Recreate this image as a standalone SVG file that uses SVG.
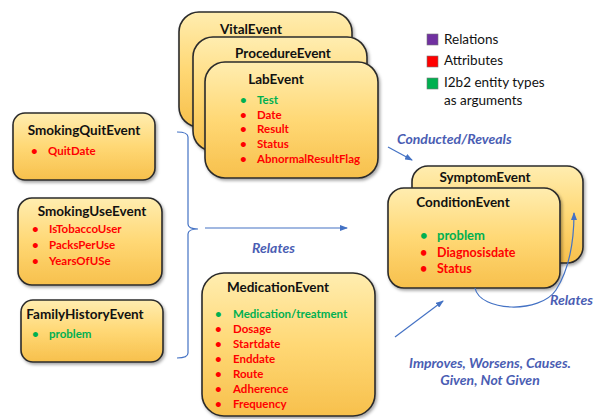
<svg xmlns="http://www.w3.org/2000/svg" width="597" height="419" viewBox="0 0 597 419">
<style>
text{font-family:Lato,"Liberation Sans",sans-serif}
.box{fill:url(#g);stroke:#2b2b2b;stroke-width:1.6;filter:url(#sh)}
.t{font-weight:700;font-size:13.5px;fill:#111}
.a{font-weight:700;font-size:11.5px;fill:#ff0000}
.e{font-weight:700;font-size:11.5px;fill:#00b050}
.a2{font-weight:700;font-size:12.5px;fill:#ff0000}
.e2{font-weight:700;font-size:13px;fill:#00b050}
.lg{font-size:13.5px;fill:#111}
.lbl{font-weight:700;font-style:italic;font-size:14px;fill:#4a5db3}
.ln{fill:none;stroke:#4472c4;stroke-width:1.2}
</style>
<defs>
<linearGradient id="g" x1="0" y1="0" x2="0" y2="1">
<stop offset="0" stop-color="#ffedb0"/>
<stop offset="0.5" stop-color="#ffd875"/>
<stop offset="1" stop-color="#f7c04c"/>
</linearGradient>
<filter id="sh" x="-10%" y="-10%" width="125%" height="125%">
<feDropShadow dx="1.5" dy="2" stdDeviation="1.5" flood-color="#000" flood-opacity="0.35"/>
</filter>
<marker id="ar" markerWidth="8" markerHeight="6" refX="7" refY="3" orient="auto" markerUnits="userSpaceOnUse">
<path d="M0,0 L8,3 L0,6 z" fill="#4472c4"/>
</marker>
</defs>
<rect width="597" height="419" fill="#fff"/>

<g id="legend">
<rect x="427" y="34" width="11" height="11" fill="#7030a0" stroke="#777" stroke-width="0.6"/>
<text class="lg" x="444" y="44">Relations</text>
<rect x="427" y="56" width="11" height="11" fill="#ff0000" stroke="#777" stroke-width="0.6"/>
<text class="lg" x="444" y="65">Attributes</text>
<rect x="427" y="78" width="11" height="11" fill="#00b050" stroke="#777" stroke-width="0.6"/>
<text class="lg" x="444" y="87">I2b2 entity types</text>
<text class="lg" x="444" y="105">as arguments</text>
</g>

<g id="VitalEvent">
<rect class="box" x="179" y="12" width="173" height="115" rx="20"/>
<text class="t" x="251" y="34" text-anchor="middle">VitalEvent</text>
</g>
<g id="ProcedureEvent">
<rect class="box" x="193" y="37" width="174" height="114" rx="20"/>
<text class="t" x="283" y="58" text-anchor="middle">ProcedureEvent</text>
</g>
<g id="LabEvent">
<rect class="box" x="205" y="62" width="173" height="116" rx="20"/>
<text class="t" x="276" y="84" text-anchor="middle">LabEvent</text>
<text class="e" x="240" y="104">•</text><text class="e" x="257" y="104">Test</text>
<text class="a" x="240" y="119">•</text><text class="a" x="257" y="119">Date</text>
<text class="a" x="240" y="133">•</text><text class="a" x="257" y="133">Result</text>
<text class="a" x="240" y="148">•</text><text class="a" x="257" y="148">Status</text>
<text class="a" x="240" y="163">•</text><text class="a" x="257" y="163">AbnormalResultFlag</text>
</g>

<g id="SmokingQuitEvent">
<rect class="box" x="13" y="113" width="142" height="67" rx="12"/>
<text class="t" x="84" y="135" text-anchor="middle">SmokingQuitEvent</text>
<text class="a" x="31" y="155">•</text><text class="a" x="48" y="155">QuitDate</text>
</g>
<g id="SmokingUseEvent">
<rect class="box" x="18" y="198" width="144" height="87" rx="14"/>
<text class="t" x="92" y="216" text-anchor="middle">SmokingUseEvent</text>
<text class="a" x="32" y="233">•</text><text class="a" x="49" y="233">IsTobaccoUser</text>
<text class="a" x="32" y="249">•</text><text class="a" x="49" y="249">PacksPerUse</text>
<text class="a" x="32" y="265">•</text><text class="a" x="49" y="265">YearsOfUSe</text>
</g>
<g id="FamilyHistoryEvent">
<rect class="box" x="21" y="300" width="142" height="62" rx="12"/>
<text class="t" x="85" y="319" text-anchor="middle">FamilyHistoryEvent</text>
<text class="e" x="32" y="338">•</text><text class="e" x="49" y="338">problem</text>
</g>

<g id="MedicationEvent">
<rect class="box" x="202" y="273" width="173" height="143" rx="22"/>
<text class="t" x="278" y="292" text-anchor="middle">MedicationEvent</text>
<text class="e" x="215" y="318">•</text><text class="e" x="233" y="318">Medication/treatment</text>
<text class="a" x="215" y="333">•</text><text class="a" x="233" y="333">Dosage</text>
<text class="a" x="215" y="348">•</text><text class="a" x="233" y="348">Startdate</text>
<text class="a" x="215" y="363">•</text><text class="a" x="233" y="363">Enddate</text>
<text class="a" x="215" y="378">•</text><text class="a" x="233" y="378">Route</text>
<text class="a" x="215" y="393">•</text><text class="a" x="233" y="393">Adherence</text>
<text class="a" x="215" y="408">•</text><text class="a" x="233" y="408">Frequency</text>
</g>

<g id="SymptomEvent">
<rect class="box" x="412" y="166" width="171" height="97" rx="16"/>
<text class="t" x="485" y="182" text-anchor="middle">SymptomEvent</text>
</g>
<g id="ConditionEvent">
<rect class="box" x="388" y="188" width="172" height="100" rx="16"/>
<text class="t" x="463" y="207" text-anchor="middle">ConditionEvent</text>
<text class="e2" x="420" y="240">•</text><text class="e2" x="437" y="240">problem</text>
<text class="a2" x="420" y="257">•</text><text class="a2" x="437" y="257">Diagnosisdate</text>
<text class="a2" x="420" y="273">•</text><text class="a2" x="437" y="273">Status</text>
</g>

<g id="connectors">
<path class="ln" d="M177,132 Q188,132 188,137 L188,224 Q188,229 198,229 Q188,229 188,234 L188,353 Q188,358 177,358"/>
<path class="ln" d="M205,228 L347,228" marker-end="url(#ar)"/>
<path class="ln" d="M388,147 L412,160" marker-end="url(#ar)"/>
<path class="ln" d="M395,337 L443,301" marker-end="url(#ar)"/>
<path class="ln" d="M475,288 C480,312 540,314 556,290 C570,268 574,240 574,213" marker-end="url(#ar)"/>
<text class="lbl" x="252" y="253">Relates</text>
<text class="lbl" x="397" y="144">Conducted/Reveals</text>
<text class="lbl" x="550" y="305">Relates</text>
<text class="lbl" x="490" y="368" text-anchor="middle">Improves, Worsens, Causes.</text>
<text class="lbl" x="490" y="385" text-anchor="middle">Given, Not Given</text>
</g>
</svg>
